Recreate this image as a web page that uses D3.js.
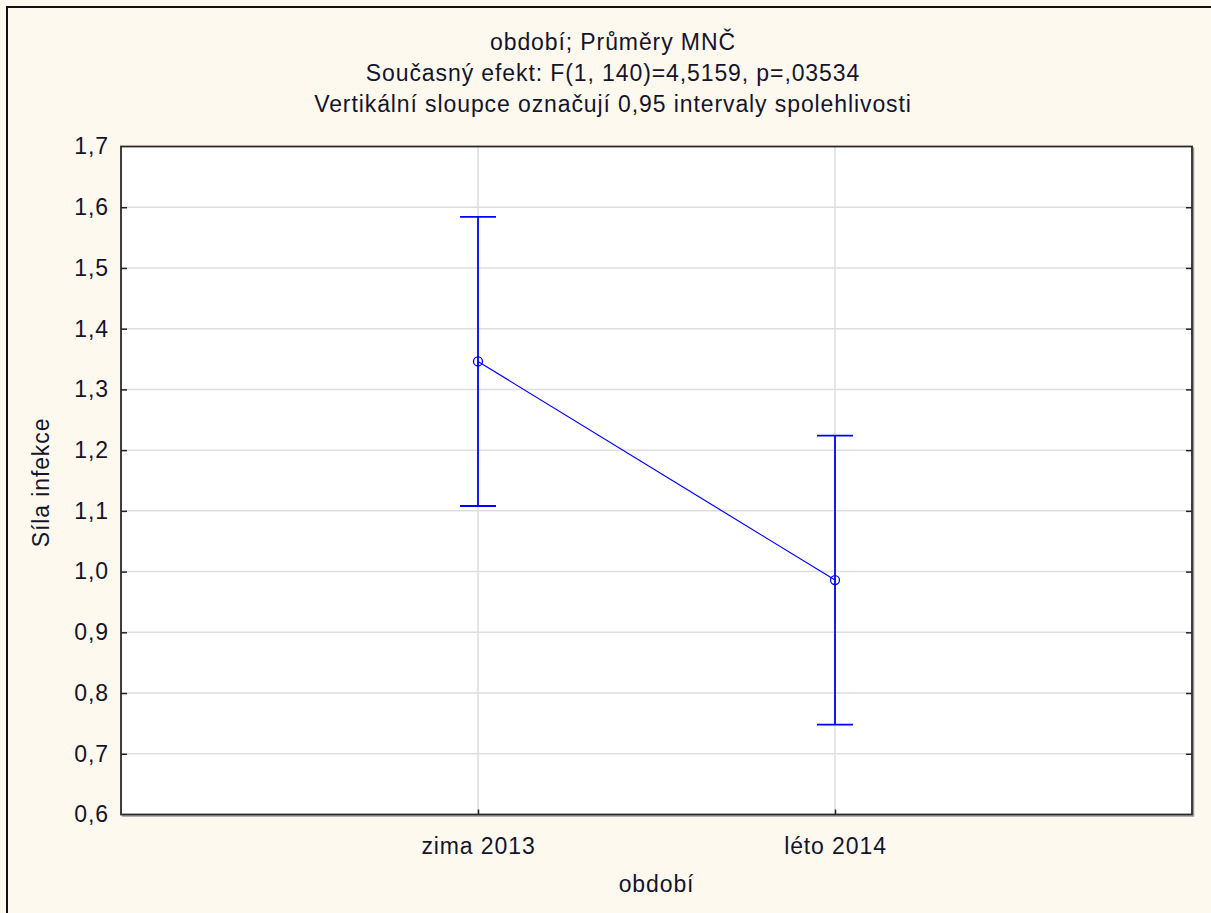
<!DOCTYPE html>
<html>
<head>
<meta charset="utf-8">
<script src="https://cdn.jsdelivr.net/npm/d3@7"></script>
<style>
  html, body { margin: 0; padding: 0; background: #fef9ef; }
  svg { display: block; }
  text { font-family: "Liberation Sans", Arial, sans-serif; fill: #14142a; letter-spacing: 0.9px; }
</style>
</head>
<body>
<svg id="chart" width="1211" height="913"></svg>
<script>
// Least-squares means of infection strength per period, with 95% CI
const categories = ["zima 2013", "léto 2014"];
const means = [1.346, 0.986];
const ciLower = [1.108, 0.748];
const ciUpper = [1.584, 1.224];
const yTicks = [0.6, 0.7, 0.8, 0.9, 1.0, 1.1, 1.2, 1.3, 1.4, 1.5, 1.6, 1.7];
const titleLines = [
  "období; Průměry MNČ",
  "Současný efekt: F(1, 140)=4,5159, p=,03534",
  "Vertikální sloupce označují 0,95 intervaly spolehlivosti"
];
const xTitle = "období";
const yTitle = "Síla infekce";

const svg = d3.select("#chart");
const W = 1211, H = 913;
const plot = { left: 121, top: 146.5, right: 1192, bottom: 814.5 };
const blue = "#0000ff";
const fontSize = 23;

// outer frame (top + left edges)
svg.append("rect").attr("width", W).attr("height", H).attr("fill", "#fef9ef");
svg.append("line").attr("x1", 7).attr("x2", 7).attr("y1", 6).attr("y2", H)
  .attr("stroke", "#111").attr("stroke-width", 2);
svg.append("line").attr("x1", 6).attr("x2", W).attr("y1", 7).attr("y2", 7)
  .attr("stroke", "#111").attr("stroke-width", 2);

const x = d3.scalePoint().domain(categories).range([plot.left, plot.right]).padding(1);
const y = d3.scaleLinear().domain([0.6, 1.7]).range([plot.bottom, plot.top]);
const fmt = d => d3.format(".1f")(d).replace(".", ",");

// plot background
svg.append("rect")
  .attr("x", plot.left).attr("y", plot.top)
  .attr("width", plot.right - plot.left).attr("height", plot.bottom - plot.top)
  .attr("fill", "#ffffff");

// gridlines
const grid = svg.append("g").attr("stroke", "#dedede").attr("stroke-width", 1.5);
grid.selectAll("line.h").data(yTicks.filter(t => t > 0.6 && t < 1.7)).join("line")
  .attr("class", "h")
  .attr("x1", plot.left).attr("x2", plot.right)
  .attr("y1", d => y(d)).attr("y2", d => y(d));
grid.selectAll("line.v").data(categories).join("line")
  .attr("class", "v")
  .attr("x1", d => x(d)).attr("x2", d => x(d))
  .attr("y1", plot.top).attr("y2", plot.bottom);

// axes with inward ticks
const yAxisL = svg.append("g").attr("transform", `translate(${plot.left},0)`)
  .call(d3.axisLeft(y).tickValues(yTicks).tickFormat(fmt).tickSize(-6).tickPadding(12));
const yAxisR = svg.append("g").attr("transform", `translate(${plot.right},0)`)
  .call(d3.axisRight(y).tickValues(yTicks.filter(t => t > 0.6 && t < 1.7)).tickFormat("").tickSize(-6));
const xAxisB = svg.append("g").attr("transform", `translate(0,${plot.bottom})`)
  .call(d3.axisBottom(x).tickSize(-5).tickPadding(23));
[yAxisL, yAxisR, xAxisB].forEach(g => {
  g.select(".domain").remove();
  g.selectAll(".tick line").attr("stroke", "#222").attr("stroke-width", 1.5);
  g.selectAll("text").attr("font-size", fontSize).attr("fill", "#14142a")
    .attr("font-family", '"Liberation Sans", Arial, sans-serif');
});
yAxisL.selectAll(".tick").filter(d => d === 0.6 || d === 1.7).select("line").remove();

// plot frame with a soft shadow on the right and bottom edges
svg.append("path")
  .attr("d", `M${plot.right + 1.5},${plot.top + 1}V${plot.bottom + 1.5}H${plot.left + 1}`)
  .attr("fill", "none").attr("stroke", "#9a9a9a").attr("stroke-width", 1.5);
svg.append("rect")
  .attr("x", plot.left).attr("y", plot.top)
  .attr("width", plot.right - plot.left).attr("height", plot.bottom - plot.top)
  .attr("fill", "none").attr("stroke", "#2a2a2a").attr("stroke-width", 1.8);

// error bars
const capHalf = 18;
const eb = svg.append("g").attr("stroke", blue);
categories.forEach((c, i) => {
  eb.append("line").attr("x1", x(c)).attr("x2", x(c))
    .attr("y1", y(ciLower[i])).attr("y2", y(ciUpper[i])).attr("stroke-width", 1.8);
  [ciLower[i], ciUpper[i]].forEach(v => {
    eb.append("line").attr("x1", x(c) - capHalf).attr("x2", x(c) + capHalf)
      .attr("y1", y(v)).attr("y2", y(v)).attr("stroke-width", 1.8);
  });
});

// mean line and markers
svg.append("path")
  .datum(categories.map((c, i) => [x(c), y(means[i])]))
  .attr("d", d3.line())
  .attr("fill", "none").attr("stroke", blue).attr("stroke-width", 1.2);
svg.selectAll("circle.mean").data(categories).join("circle")
  .attr("class", "mean")
  .attr("cx", d => x(d)).attr("cy", (d, i) => y(means[i])).attr("r", 4.5)
  .attr("fill", "none").attr("stroke", blue).attr("stroke-width", 1.3);

// titles
svg.selectAll("text.title").data(titleLines).join("text")
  .attr("class", "title")
  .attr("x", 613).attr("y", (d, i) => 50 + i * 31)
  .attr("text-anchor", "middle").attr("font-size", fontSize)
  .text(d => d);

svg.append("text")
  .attr("x", (plot.left + plot.right) / 2).attr("y", 892)
  .attr("text-anchor", "middle").attr("font-size", fontSize)
  .text(xTitle);

svg.append("text")
  .attr("transform", `translate(49,${(plot.top + plot.bottom) / 2 + 2}) rotate(-90)`)
  .attr("text-anchor", "middle").attr("font-size", fontSize)
  .text(yTitle);
</script>
</body>
</html>
